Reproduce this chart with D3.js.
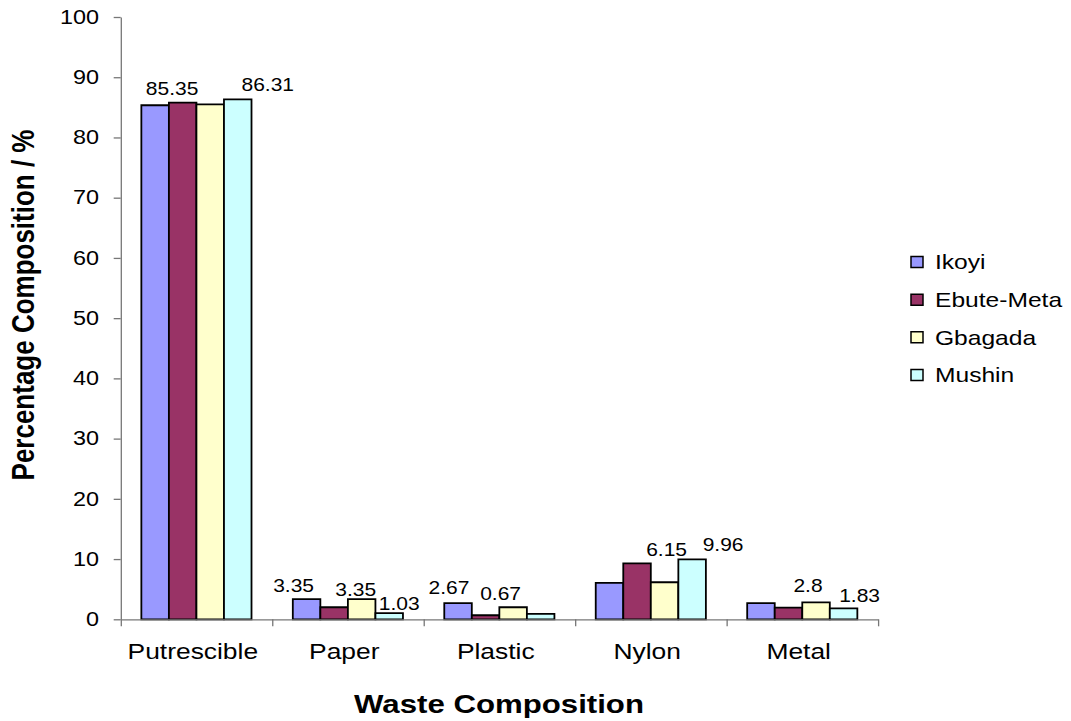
<!DOCTYPE html>
<html>
<head>
<meta charset="utf-8">
<script src="https://cdn.jsdelivr.net/npm/d3@7/dist/d3.min.js"></script>
<style>
  html, body { margin: 0; padding: 0; background: #fff; }
  svg { display: block; }
  text { font-family: "Liberation Sans", Arial, Helvetica, sans-serif; fill: #000; }
</style>
</head>
<body>
<svg id="chart" width="1071" height="721"></svg>
<script>
// ---- data ----
const categories = ["Putrescible", "Paper", "Plastic", "Nylon", "Metal"];
const seriesNames = ["Ikoyi", "Ebute-Meta", "Gbagada", "Mushin"];
const ikoyi     = [85.35, 3.35, 2.67, 6.05, 2.70];
const ebuteMeta = [85.80, 2.00, 0.67, 9.30, 1.95];
const gbagada   = [85.50, 3.35, 2.00, 6.15, 2.80];
const mushin    = [86.31, 1.03, 0.90, 9.96, 1.83];
const yTicks = [0, 10, 20, 30, 40, 50, 60, 70, 80, 90, 100];
// which bars carry a value label: [category index, series index]
const labelled = [[0,0],[0,3],[1,0],[1,2],[1,3],[2,0],[2,1],[3,2],[3,3],[4,2],[4,3]];

// ---- layout (kept apart from the data) ----
const S = 1.2;                 // horizontal stretch of the original figure
const labelNudge = [[17,-10],[30,-8],[-13,-7],[-6,-3],[10,-3],[-9,-9],[15,-15],[2,-26],[31,-8],[-8,-10],[16,-6]];
const colors = ["#9999FF", "#993366", "#FFFFCC", "#CCFFFF"];
const axisColor = "#777";

const seriesValues = [ikoyi, ebuteMeta, gbagada, mushin];

const svg = d3.select("#chart");
const g = svg.append("g").attr("transform", `scale(${S},1)`);

const x0 = 120.7 / S, x1 = 878 / S;
const yTop = 17, yBot = 619.3;

const x = d3.scaleBand().domain(categories).range([x0, x1]).paddingInner(0).paddingOuter(0);
const xs = d3.scaleBand().domain(seriesNames).range([0, x.bandwidth()]).paddingInner(0).paddingOuter(0.75);
const y = d3.scaleLinear().domain([0, 100]).range([yBot, yTop]);

// bars
categories.forEach((cat, ci) => {
  seriesNames.forEach((s, si) => {
    const v = seriesValues[si][ci];
    g.append("rect")
      .attr("x", x(cat) + xs(s))
      .attr("y", y(v))
      .attr("width", xs.bandwidth())
      .attr("height", y(0) - y(v))
      .attr("fill", colors[si])
      .attr("stroke", "#000")
      .attr("stroke-width", 1.8)
      .attr("vector-effect", "non-scaling-stroke");
  });
});

// y axis
const yAxis = g.append("g").attr("transform", `translate(${x0},0)`)
  .call(d3.axisLeft(y).tickValues(yTicks).tickSize(7 / S).tickSizeOuter(0).tickPadding(12.3));
yAxis.select(".domain").attr("stroke", axisColor).attr("stroke-width", 1.3).attr("vector-effect", "non-scaling-stroke");
yAxis.selectAll(".tick line").attr("stroke", axisColor).attr("stroke-width", 1.3).attr("vector-effect", "non-scaling-stroke");
yAxis.selectAll(".tick text").attr("font-size", "19.5px").attr("fill", "#000")
  .style("font-family", "'Liberation Sans', Arial, sans-serif");

// x axis: boundary ticks
const xb = d3.scaleLinear().domain([0, categories.length]).range([x0, x1]);
const xAxis = g.append("g").attr("transform", `translate(0,${yBot})`)
  .call(d3.axisBottom(xb).tickValues(d3.range(categories.length + 1)).tickSize(7).tickSizeOuter(0).tickFormat(""));
xAxis.select(".domain").attr("stroke", axisColor).attr("stroke-width", 1.3).attr("vector-effect", "non-scaling-stroke");
xAxis.selectAll(".tick line").attr("stroke", axisColor).attr("stroke-width", 1.3).attr("vector-effect", "non-scaling-stroke");

// category labels
const xLab = g.append("g").attr("transform", `translate(-3,${yBot})`)
  .call(d3.axisBottom(x).tickSize(0).tickPadding(24));
xLab.select(".domain").remove();
xLab.selectAll(".tick text").attr("font-size", "22px").attr("fill", "#000")
  .style("font-family", "'Liberation Sans', Arial, sans-serif");

// value labels
labelled.forEach(([ci, si], i) => {
  const v = seriesValues[si][ci];
  g.append("text")
    .attr("x", x(categories[ci]) + xs(seriesNames[si]) + xs.bandwidth() / 2 + labelNudge[i][0] / S)
    .attr("y", y(v) + labelNudge[i][1])
    .attr("text-anchor", "middle")
    .attr("font-size", "17.5px")
    .text(String(v));
});

// axis titles
g.append("text")
  .attr("x", 499 / S).attr("y", 713)
  .attr("text-anchor", "middle")
  .attr("font-size", "26px").attr("font-weight", "bold")
  .text("Waste Composition");

g.append("text")
  .attr("transform", `translate(${34 / S},${305}) rotate(-90)`)
  .attr("text-anchor", "middle")
  .attr("font-size", "26px").attr("font-weight", "bold")
  .text("Percentage Composition / %");

// legend
const legendY = d3.scalePoint().domain(seriesNames).range([262, 375]);
seriesNames.forEach((s, si) => {
  const cy = legendY(s);
  g.append("rect")
    .attr("x", 911 / S).attr("y", cy - 5.5)
    .attr("width", 12 / S).attr("height", 11)
    .attr("fill", colors[si]).attr("stroke", "#000").attr("stroke-width", 1.5)
    .attr("vector-effect", "non-scaling-stroke");
  g.append("text")
    .attr("x", 935 / S).attr("y", cy).attr("dy", "0.36em")
    .attr("font-size", "20.5px")
    .text(s);
});
</script>
</body>
</html>
